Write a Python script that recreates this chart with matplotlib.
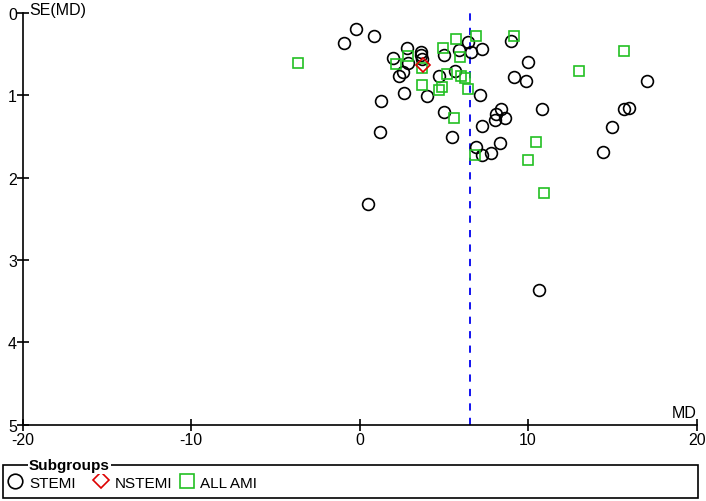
import matplotlib
matplotlib.use("Agg")
import matplotlib.pyplot as plt
from matplotlib.lines import Line2D
from matplotlib.patches import Rectangle

plt.rcParams['font.family'] = ['Liberation Sans', 'DejaVu Sans']
plt.rcParams['axes.unicode_minus'] = False

# ---- data (MD, SE) ----
stemi_md = [-0.95, -0.22, 0.87, 1.97, 0.49, 1.29, 1.23, 2.33, 2.57, 2.86, 2.83, 2.61,
            3.62, 3.66, 3.69, 3.99, 4.74, 5.00, 5.69, 5.87, 6.44, 6.62, 7.27, 7.17,
            5.00, 5.51, 7.25, 8.02, 8.10, 8.40, 8.60, 6.92, 7.27, 7.82, 8.34, 8.99,
            10.02, 9.15, 9.88, 10.83, 10.67, 17.03, 15.67, 16.00, 14.96, 14.45]
stemi_se = [0.37, 0.20, 0.28, 0.55, 2.32, 1.07, 1.45, 0.76, 0.72, 0.61, 0.43, 0.97,
            0.47, 0.51, 0.56, 1.01, 0.76, 0.51, 0.71, 0.45, 0.35, 0.47, 0.44, 1.00,
            1.20, 1.50, 1.37, 1.30, 1.23, 1.16, 1.28, 1.63, 1.73, 1.70, 1.58, 0.34,
            0.60, 0.78, 0.83, 1.17, 3.37, 0.83, 1.16, 1.15, 1.39, 1.69]

nstemi_md = [3.75]
nstemi_se = [0.63]

allami_md = [-3.66, 2.18, 2.90, 3.69, 3.69, 4.70, 4.88, 5.20, 6.03, 6.28, 6.46, 4.94,
             5.73, 5.93, 6.92, 5.59, 9.15, 6.86, 10.45, 10.02, 10.97, 13.0, 15.69]
allami_se = [0.61, 0.62, 0.52, 0.67, 0.88, 0.94, 0.90, 0.74, 0.77, 0.79, 0.92, 0.42,
             0.32, 0.54, 0.28, 1.27, 0.28, 1.73, 1.57, 1.79, 2.18, 0.70, 0.46]

pooled_md = 6.56

x_ticks = [-20, -10, 0, 10, 20]
y_ticks = [0, 1, 2, 3, 4, 5]
legend_labels = ['STEMI', 'NSTEMI', 'ALL AMI']

W, H = 706, 502
fig = plt.figure(figsize=(W / 100, H / 100), dpi=100)

def fx(px):
    return px / W

def fy(py):
    return 1 - py / H

left, right, top, bottom = 22.6, 696.6, 14.0, 425.7
ax = fig.add_axes([fx(left), fy(bottom), fx(right) - fx(left), fy(top) - fy(bottom)])

ax.set_xlim(-20, 20)
ax.set_ylim(5, 0)
for s in ['top', 'right']:
    ax.spines[s].set_visible(False)
for s in ['left', 'bottom']:
    ax.spines[s].set_linewidth(1.2)

ax.set_xticks(x_ticks)
ax.set_yticks(y_ticks)
ax.tick_params(axis='both', direction='inout', length=8, width=1.2, labelsize=11.5, pad=1)
ax.tick_params(axis='y', pad=0)

ax.axvline(pooled_md, color='#0000EE', linestyle=(0, (4, 4)), linewidth=1.3, zorder=1)

ax.plot(stemi_md, stemi_se, linestyle='none', marker='o', markersize=8.5,
        markerfacecolor='none', markeredgecolor='black', markeredgewidth=1.2, zorder=3)
ax.plot(allami_md, allami_se, linestyle='none', marker='s', markersize=7.2,
        markerfacecolor='none', markeredgecolor='#22C022', markeredgewidth=1.2, zorder=3)
ax.plot(nstemi_md, nstemi_se, linestyle='none', marker='D', markersize=6.8,
        markerfacecolor='none', markeredgecolor='#DD0000', markeredgewidth=1.2, zorder=4)

fig.text(fx(29), fy(10), 'SE(MD)', fontsize=11.5, va='center', ha='left')
fig.text(fx(697), fy(413), 'MD', fontsize=11.5, va='center', ha='right')

# ---- legend box ----
rect = Rectangle((fx(2.7), fy(498.7)), fx(697.7) - fx(2.7), fy(465.7) - fy(498.7),
                 transform=fig.transFigure, fill=False, edgecolor='black', linewidth=1.2)
fig.add_artist(rect)
fig.text(fx(29), fy(466.5), 'Subgroups', fontsize=11, fontweight='bold', va='center',
         ha='left', bbox=dict(facecolor='white', edgecolor='none', pad=1))

legend_markers = [('o', 10.5, 'black', 15, 482), ('D', 8.6, '#DD0000', 101, 481),
                  ('s', 10.0, '#22C022', 187, 481.5)]
text_x = [29, 115, 200]
for (m, ms, c, px, py), lab, tx in zip(legend_markers, legend_labels, text_x):
    fig.add_artist(Line2D([fx(px)], [fy(py)], transform=fig.transFigure, linestyle='none',
                          marker=m, markersize=ms, markerfacecolor='none',
                          markeredgecolor=c, markeredgewidth=1.2))
    fig.text(fx(tx), fy(484), lab, fontsize=11, va='center', ha='left')

fig.savefig('out.png', dpi=100)
